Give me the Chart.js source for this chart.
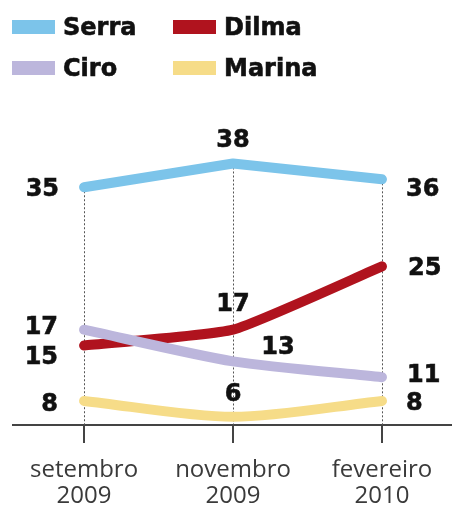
<!DOCTYPE html>
<html>
<head>
<meta charset="utf-8">
<script src="https://cdn.jsdelivr.net/npm/chart.js@4.4.0/dist/chart.umd.min.js"></script>
<style>
  html, body { margin: 0; background: #fff; }
  #wrap { width: 452px; height: 510px; position: relative; }
</style>
</head>
<body>
<div id="wrap"><canvas id="chart"></canvas></div>
<script>
const categories = [['setembro', '2009'], ['novembro', '2009'], ['fevereiro', '2010']];
const serra = [35, 38, 36];
const dilma = [15, 17, 25];
const ciro = [17, 13, 11];
const marina = [8, 6, 8];

// offset [dx, dy, align] of each number from its point
const labelSpots = {
    Serra: [[-25, 0, 'right'], [0, -25, 'center'], [24, 8, 'left']],
    Dilma: [[-26, 9, 'right'], [0, -28, 'center'], [26, 0, 'left']],
    Ciro: [[-26, -5, 'right'], [45, -16, 'center'], [25, -4, 'left']],
    Marina: [[-26, 1, 'right'], [0, -25, 'center'], [24, 0, 'left']],
};

const toPoints = arr => arr.map((v, i) => ({x: i, y: v}));

const line = (label, values, color, tension, order) => ({
    label: label,
    data: toPoints(values),
    borderColor: color,
    backgroundColor: color,
    borderWidth: 10,
    borderCapStyle: 'round',
    borderJoinStyle: 'round',
    pointRadius: 0,
    tension: tension,
    order: order,
    clip: false,
});

// heavy black text: fill plus a thin stroke
const heavyText = (ctx, text, x, y) => {
    ctx.fillText(text, x, y);
    ctx.strokeText(text, x, y);
};

// dotted guides from the Serra line down to the axis
const guides = {
    id: 'guides',
    beforeDatasetsDraw(chart) {
        const ctx = chart.ctx;
        const bottom = chart.chartArea.bottom;
        ctx.save();
        ctx.strokeStyle = '#555';
        ctx.lineWidth = 1;
        ctx.setLineDash([2, 2]);
        chart.getDatasetMeta(0).data.forEach(pt => {
            ctx.beginPath();
            ctx.moveTo(Math.round(pt.x) + 0.5, pt.y);
            ctx.lineTo(Math.round(pt.x) + 0.5, bottom);
            ctx.stroke();
        });
        ctx.restore();
    }
};

const valueLabels = {
    id: 'valueLabels',
    afterDatasetsDraw(chart) {
        const ctx = chart.ctx;
        ctx.save();
        ctx.font = 'bold 24px "DejaVu Sans"';
        ctx.fillStyle = '#111';
        ctx.strokeStyle = '#111';
        ctx.lineWidth = 0.6;
        ctx.textBaseline = 'alphabetic';
        chart.data.datasets.forEach((ds, di) => {
            const spots = labelSpots[ds.label];
            chart.getDatasetMeta(di).data.forEach((pt, i) => {
                const [dx, dy, align] = spots[i];
                ctx.textAlign = align;
                heavyText(ctx, ds.data[i].y, pt.x + dx, pt.y + dy + 9);
            });
        });
        ctx.restore();
    }
};

// two-column key at the top
const keyLegend = {
    id: 'keyLegend',
    afterDraw(chart) {
        const ctx = chart.ctx;
        ctx.save();
        ctx.font = 'bold 24px "DejaVu Sans"';
        ctx.textAlign = 'left';
        ctx.textBaseline = 'alphabetic';
        ctx.strokeStyle = '#111';
        ctx.lineWidth = 0.6;
        chart.data.datasets.forEach((ds, i) => {
            const x = 12 + (i % 2) * 161;
            const cy = 27 + Math.floor(i / 2) * 41;
            ctx.fillStyle = ds.borderColor;
            ctx.fillRect(x, cy - 7, 43, 14);
            ctx.fillStyle = '#111';
            heavyText(ctx, ds.label, x + 51, cy + 8);
        });
        ctx.restore();
    }
};

new Chart(document.getElementById('chart'), {
    type: 'line',
    data: {
        datasets: [
            line('Serra', serra, '#7cc4ea', 0, 1),
            line('Dilma', dilma, '#b0131e', 0.15, 1),
            line('Ciro', ciro, '#bcb6dc', 0.25, 0),
            line('Marina', marina, '#f6dc88', 0.3, 1),
        ]
    },
    options: {
        responsive: true,
        maintainAspectRatio: false,
        animation: false,
        layout: {padding: {top: 100, left: 13, right: 0, bottom: 0}},
        plugins: {
            legend: {display: false},
            tooltip: {enabled: false},
        },
        scales: {
            x: {
                type: 'linear',
                min: -0.477,
                max: 2.47,
                afterBuildTicks: scale => {
                    scale.ticks = categories.map((c, i) => ({value: i}));
                },
                afterFit: scale => {
                    scale.height = 85;
                },
                grid: {drawOnChartArea: false, drawTicks: true, tickLength: 18, color: '#444', lineWidth: 2},
                border: {display: true, color: '#444', width: 2},
                ticks: {
                    callback: value => categories[value],
                    autoSkip: false,
                    maxRotation: 0,
                    padding: 14,
                    color: '#3a3a3a',
                    font: {family: '"Open Sans"', size: 24, lineHeight: 1.1},
                },
            },
            y: {display: false, min: 4.96, max: 46.02},
        },
    },
    plugins: [guides, valueLabels, keyLegend],
});
</script>
</body>
</html>
